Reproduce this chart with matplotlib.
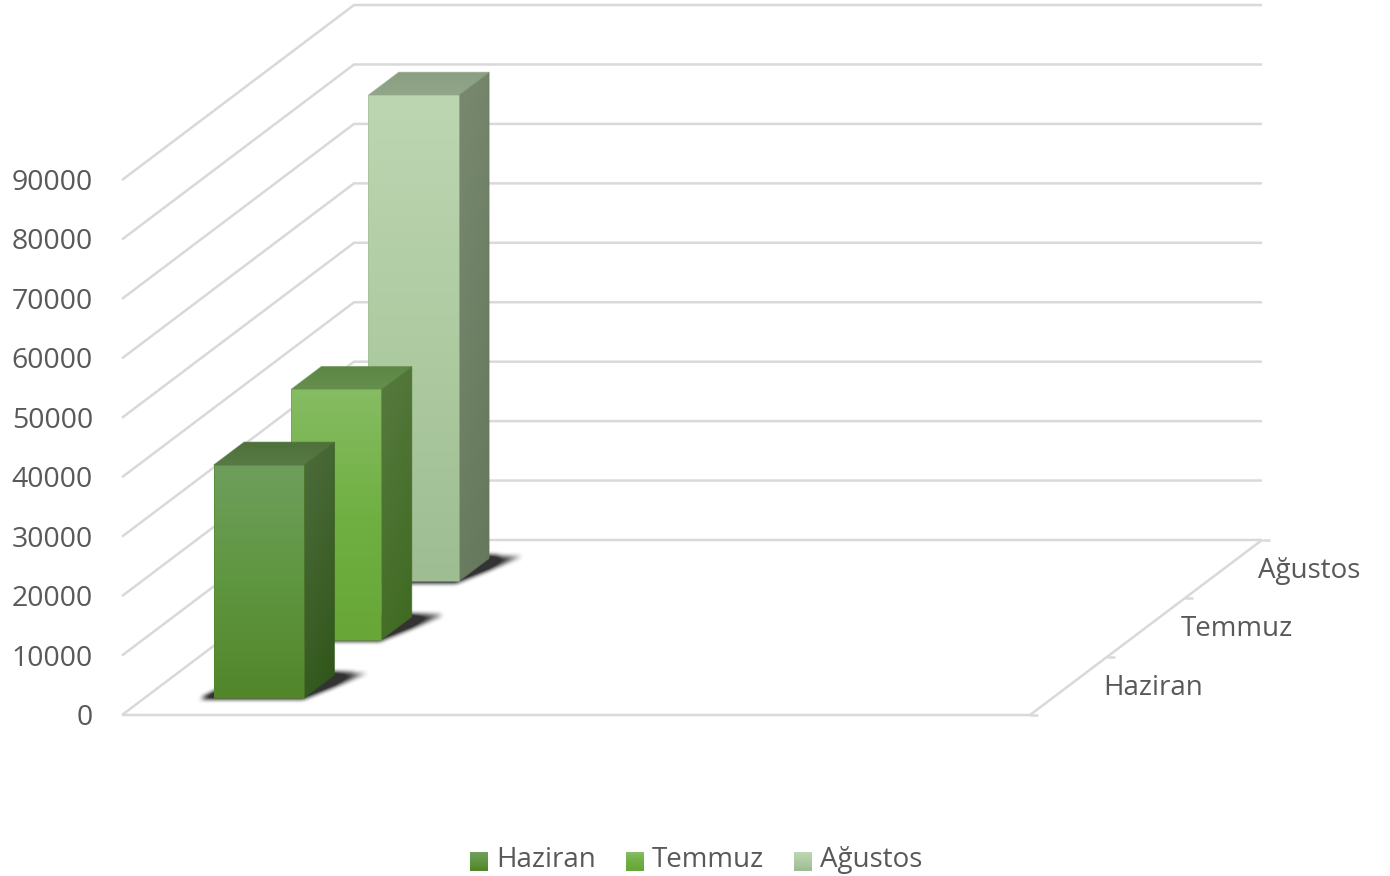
import numpy as np
import matplotlib
matplotlib.use('Agg')
import matplotlib.pyplot as plt
from matplotlib.colors import LinearSegmentedColormap
from matplotlib.legend_handler import HandlerBase
from matplotlib.patches import Patch, Polygon, Rectangle
from matplotlib.path import Path

months = ['Haziran', 'Temmuz', 'Ağustos']
values = [39200, 42100, 81800]
value_ticks = [0, 10000, 20000, 30000, 40000, 50000, 60000, 70000, 80000, 90000]

# gradient stops per month: front top/mid/bottom, side top/bottom, roof left/right
front_cols = [['#6f9e5c', '#5f9640', '#53862b'],
              ['#86bc63', '#70b042', '#67a637'],
              ['#bdd6b2', '#aecba2', '#9fbd92']]
side_cols = [['#4d6d3c', '#2f5518'], ['#577a40', '#3f6a20'], ['#78896f', '#65785b']]
roof_cols = [['#4f7039', '#587a46'], ['#5c8744', '#668f4e'], ['#8a9f82', '#92a68a']]

GRID = '#d9d9d9'
TEXT = '#595959'
FS = 20

# oblique projection of the 3d box, in pixels of the 1390x876 picture
X0, Y0 = 122, 715
WIDTH = 908
DDX, DDY = 232, -175
PX_PER_VALUE = 59.44 / 10000
BAR_U0, BAR_W = 0.0762, 0.0995
BAR_D0, BAR_D = 0.097, 0.131


def proj(u, d, v=0):
	return X0 + u * WIDTH + d * DDX, Y0 - v * PX_PER_VALUE + d * DDY


def fill(ax, pts, colors, diag=False, zorder=3):
	# gradient image clipped to the face
	pts = np.array(pts)
	x0, x1 = pts[:, 0].min(), pts[:, 0].max()
	y0, y1 = pts[:, 1].min(), pts[:, 1].max()
	cmap = LinearSegmentedColormap.from_list('face', colors)
	yy, xx = np.mgrid[0:1:200j, 0:1:100j]
	grad = 0.75 * yy + 0.25 * xx if diag else yy
	im = ax.imshow(grad, extent=(x0, x1, y1, y0), cmap=cmap, vmin=0, vmax=1,
		aspect='auto', zorder=zorder, interpolation='bilinear')
	poly = Polygon(pts, closed=True, transform=ax.transData, fc='none', ec='none')
	ax.add_patch(poly)
	im.set_clip_path(poly)
	edge = Polygon(pts, closed=True, fc='none', ec=colors[-1], lw=0.7, alpha=0.6, zorder=zorder + 0.1)
	ax.add_patch(edge)


def soft_shadow(ax, pts, x_edge, zorder):
	# blurred polygon, drawn as an image with an alpha channel
	pts = np.array(pts)
	pad = 14
	x0, x1 = int(pts[:, 0].min()) - pad, int(pts[:, 0].max()) + pad
	y0, y1 = int(pts[:, 1].min()) - pad, int(pts[:, 1].max()) + pad
	xx, yy = np.meshgrid(np.arange(x0, x1) + 0.5, np.arange(y0, y1) + 0.5)
	inside = Path(pts).contains_points(np.c_[xx.ravel(), yy.ravel()]).reshape(xx.shape).astype(float)
	kernel = np.hanning(13)
	kernel = kernel / kernel.sum()
	for axis in (0, 1):
		inside = np.apply_along_axis(lambda r: np.convolve(r, kernel, mode='same'), axis, inside)
	# fades out away from the bar
	fade = np.clip(1 - (xx - x_edge) / (x1 - x_edge), 0.25, 1)
	rgba = np.zeros(inside.shape + (4,))
	rgba[..., 3] = np.clip(inside * fade * 1.1, 0, 0.8)
	ax.imshow(rgba, extent=(x0, x1, y1, y0), aspect='auto', zorder=zorder, interpolation='bilinear')


class GradHandler(HandlerBase):
	def create_artists(self, legend, orig, xd, yd, w, h, fs, trans):
		cols = orig.get_gid().split(',')
		cmap = LinearSegmentedColormap.from_list('h', cols)
		n = 10
		yb = -yd - 3
		return [Rectangle((-xd, yb + h - (i + 1) * h / n), w, h / n + 0.3, fc=cmap(i / (n - 1)),
			ec='none', transform=trans) for i in range(n)]


def main():
	plt.rcParams['font.family'] = ['Open Sans', 'DejaVu Sans']
	fig = plt.figure(figsize=(13.9, 8.76), dpi=100)
	ax = fig.add_axes([0, 0, 1, 1])
	ax.axis('off')

	# walls
	for v in value_ticks:
		a, b, c = proj(0, 0, v), proj(0, 1, v), proj(1, 1, v)
		ax.plot([a[0], b[0], c[0]], [a[1], b[1], c[1]], color=GRID, lw=1.8, zorder=1,
			solid_joinstyle='miter', solid_capstyle='butt')
		ax.text(93, a[1] + 3, str(v), ha='right', va='center', color=TEXT, fontsize=20.5)

	# floor
	a, b, c = proj(0, 0), proj(1, 0), proj(1, 1)
	ax.plot([a[0], b[0], c[0]], [a[1], b[1], c[1]], color=GRID, lw=1.8, zorder=1,
		solid_joinstyle='miter', solid_capstyle='butt')
	for i in range(4):
		p = proj(1, i / 3)
		ax.plot([p[0], p[0] + 8], [p[1], p[1]], color=GRID, lw=1.8, zorder=1, solid_capstyle='butt')
	for i, m in enumerate(months):
		p = proj(1, (i + 0.5) / 3)
		ax.text(p[0] + 35, p[1] + 2, m, ha='left', va='center', color=TEXT, fontsize=FS)

	# bars, back to front
	for i in reversed(range(len(months))):
		u0, u1 = BAR_U0, BAR_U0 + BAR_W
		d0, d1 = BAR_D0 + i / 3, BAR_D0 + BAR_D + i / 3
		v = values[i]

		shadow = [proj(u0 - 0.014, d0 - 0.006), proj(u1, d0 - 0.008), proj(u1 + 0.034, d1 + 0.012),
			proj(u1, d1 + 0.018), proj(u0, d1)]
		soft_shadow(ax, shadow, proj(u1, d1)[0], 2 + (2 - i) * 2)

		z = 3 + (2 - i) * 2
		fill(ax, [proj(u1, d0), proj(u1, d1), proj(u1, d1, v), proj(u1, d0, v)], side_cols[i], diag=True, zorder=z)
		fill(ax, [proj(u0, d0, v), proj(u1, d0, v), proj(u1, d1, v), proj(u0, d1, v)], roof_cols[i], zorder=z)
		fill(ax, [proj(u0, d0), proj(u1, d0), proj(u1, d0, v), proj(u0, d0, v)], front_cols[i], zorder=z + 0.2)

	handles = []
	for i, m in enumerate(months):
		h = Patch(label=m)
		h.set_gid(','.join(front_cols[i]))
		handles.append(h)
	ax.legend(handles=handles, loc='center', bbox_to_anchor=(696, 860), bbox_transform=ax.transData,
		ncols=3, frameon=False, fontsize=FS, labelcolor=TEXT, handlelength=0.65, handleheight=0.65,
		handletextpad=0.29, columnspacing=1.08, borderpad=0, handler_map={Patch: GradHandler()})

	ax.set_xlim(0, 1390)
	ax.set_ylim(876, 0)
	fig.savefig('out.png', dpi=100)


if __name__ == '__main__':
	main()
